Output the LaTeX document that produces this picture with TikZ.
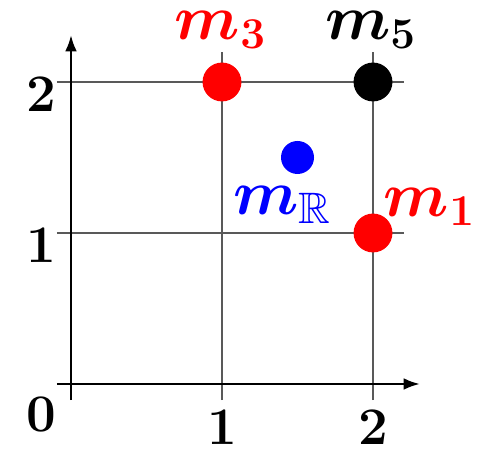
\documentclass[tikz,border=0pt]{standalone}
\usepackage{amssymb}
\usepackage{bm}
\usetikzlibrary{arrows.meta}
\begin{document}
\begin{tikzpicture}[x=41.18pt,y=41.18pt,
  gridline/.style={draw=black!65,line width=0.35pt},
  axisline/.style={draw=black,line width=0.6pt,-{Latex[length=4.4pt,width=3.2pt]}},
  lbl/.style={font=\LARGE\boldmath, inner sep=0pt},
  tick/.style={font=\Large\boldmath, inner sep=0pt},
  dotbig/.style={circle,inner sep=0pt,minimum size=10.6pt},
  dotsmall/.style={circle,inner sep=0pt,minimum size=9pt}]
\useasboundingbox (-0.4702,-0.4305) rectangle (2.7020,2.5430);
% grid lines
\coordinate (h1a) at (-0.093,1); \coordinate (h1b) at (2.205,1);
\coordinate (h2a) at (-0.093,2); \coordinate (h2b) at (2.205,2);
\coordinate (v1a) at (1,-0.106); \coordinate (v1b) at (1,2.2);
\coordinate (v2a) at (2,-0.106); \coordinate (v2b) at (2,2.2);
\draw[gridline] (h1a) -- (h1b);
\draw[gridline] (h2a) -- (h2b);
\draw[gridline] (v1a) -- (v1b);
\draw[gridline] (v2a) -- (v2b);
% axes
\coordinate (xa) at (-0.093,0); \coordinate (xb) at (2.31,0);
\coordinate (ya) at (0,-0.106); \coordinate (yb) at (0,2.31);
\draw[axisline] (xa) -- (xb);
\draw[axisline] (ya) -- (yb);
% dots
\node[dotbig,fill=red] (m3) at (1,2) {};
\node[dotbig,fill=black] (m5) at (2,2) {};
\node[dotbig,fill=red] (m1) at (2,1) {};
\node[dotsmall,fill=blue] (mR) at (1.5,1.5) {};
% labels
\node[lbl,text=red] (l3) at (0.993,2.344) {$m_3$};
\node[lbl,text=black] (l5) at (1.987,2.344) {$m_5$};
\node[lbl,text=red] (l1) at (2.377,1.172) {$m_1$};
\node[lbl,text=blue] (lR) at (1.404,1.185) {$m_{\mathbb{R}}$};
% tick labels
\node[tick] (t2y) at (-0.199,1.914) {$2$};
\node[tick] (t1y) at (-0.199,0.914) {$1$};
\node[tick] (t0) at (-0.199,-0.199) {$0$};
\node[tick] (t1x) at (1,-0.291) {$1$};
\node[tick] (t2x) at (2,-0.291) {$2$};
\end{tikzpicture}
\end{document}
